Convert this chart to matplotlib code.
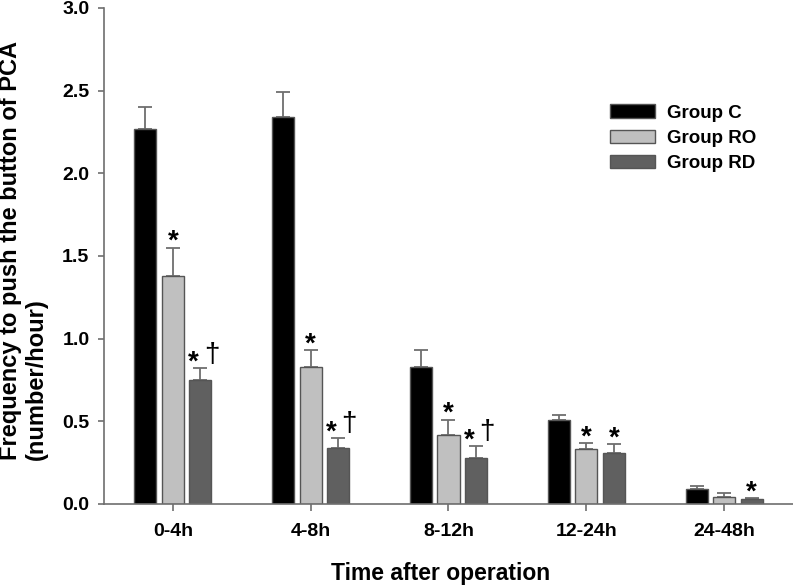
import matplotlib.pyplot as plt
import numpy as np

plt.rcParams['font.family'] = ['Liberation Sans', 'DejaVu Sans']

# time windows and group means / upper error (SEM)
periods = ['0-4h', '4-8h', '8-12h', '12-24h', '24-48h']
groups = ['Group C', 'Group RO', 'Group RD']

group_c = [2.27, 2.34, 0.83, 0.51, 0.09]
group_ro = [1.38, 0.83, 0.42, 0.33, 0.045]
group_rd = [0.75, 0.34, 0.28, 0.31, 0.03]

err_c = [0.13, 0.15, 0.10, 0.03, 0.02]
err_ro = [0.17, 0.10, 0.09, 0.04, 0.02]
err_rd = [0.07, 0.06, 0.07, 0.05, 0.005]

# significance marks: star = vs group C, dagger = vs group RO
stars_ro = [True, True, True, True, False]
stars_rd = [True, True, True, True, True]
dagger_rd = [True, True, True, False, False]

colors = ['#000000', '#c0c0c0', '#606060']
grey = '#6e6e6e'

fig = plt.figure(figsize=(7.93, 5.87), dpi=100)
ax = fig.add_axes([0.1311, 0.1414, 0.8689, 0.845])

x = np.arange(len(periods))
width = 0.16
step = 0.2

series = [group_c, group_ro, group_rd]
errors = [err_c, err_ro, err_rd]
for i, (vals, errs) in enumerate(zip(series, errors)):
    pos = x + (i - 1) * step
    ax.bar(pos, vals, width, color=colors[i], edgecolor='#555555', linewidth=1.0,
           label=groups[i], zorder=2)
    ax.errorbar(pos, vals, yerr=[np.zeros(len(vals)), errs], fmt='none',
                ecolor=grey, elinewidth=1.3, capsize=5, capthick=1.3, zorder=1)

star_kw = dict(textcoords='offset points', ha='center', va='baseline',
               fontsize=20, fontweight='bold')
dag_kw = dict(textcoords='offset points', ha='center', va='baseline',
              fontsize=20)

for j in range(len(periods)):
    # group RO
    if stars_ro[j]:
        top = group_ro[j] + err_ro[j]
        ax.annotate('*', xy=(x[j], top), xytext=(0, -1), **star_kw)
    # group RD
    top = group_rd[j] + err_rd[j]
    xr = x[j] + step
    if dagger_rd[j]:
        ax.annotate('*', xy=(xr, top), xytext=(-5, -1), **star_kw)
        ax.annotate('\u2020', xy=(xr, top), xytext=(8, 4.8), **dag_kw)
    elif stars_rd[j]:
        ax.annotate('*', xy=(xr, top), xytext=(0, -1), **star_kw)

ax.set_xlim(-0.5, 4.5)
ax.set_ylim(0, 3.0)
ax.set_yticks(np.arange(0, 3.01, 0.5))
ax.set_yticklabels(['%.1f' % v for v in np.arange(0, 3.01, 0.5)])
ax.set_xticks(x)
ax.set_xticklabels(periods)

for s in ['top', 'right']:
    ax.spines[s].set_visible(False)
for s in ['left', 'bottom']:
    ax.spines[s].set_color(grey)
    ax.spines[s].set_linewidth(1.2)

ax.tick_params(axis='both', colors=grey, labelcolor='black', width=1.2,
               labelsize=14)
ax.tick_params(axis='y', length=4.5, pad=6)
ax.tick_params(axis='x', length=5, pad=9)
for lab in ax.get_xticklabels() + ax.get_yticklabels():
    lab.set_fontweight('bold')

ax.set_xlabel('Time after operation', fontsize=16.5, fontweight='bold')
ax.xaxis.set_label_coords(0.489, -0.117)
ax.set_ylabel('Frequency to push the button of PCA\n(number/hour)',
              fontsize=17, fontweight='bold', linespacing=1.15,
              ha='left', va='bottom', multialignment='left')
ax.yaxis.set_label_coords(-0.081, 0.089)

fig.legend(loc='upper left', bbox_to_anchor=(0.769, 0.822), frameon=False,
           prop={'weight': 'bold', 'size': 13.5},
           handlelength=2.4, handleheight=0.75, labelspacing=0.41,
           handletextpad=0.65, borderpad=0, borderaxespad=0)

plt.savefig('out.png', dpi=100)
